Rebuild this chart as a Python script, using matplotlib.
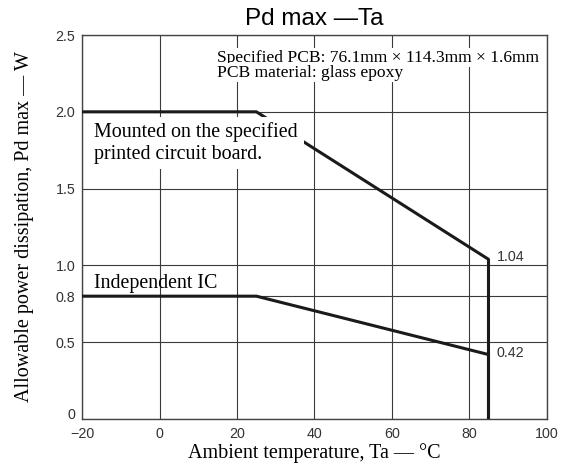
import numpy as np
import matplotlib
matplotlib.use("Agg")
from matplotlib import pyplot as plt

# curve breakpoints
ta = [-20, 25, 85, 85]
pd_board = [2.0, 2.0, 1.04, 0.0]
pd_ic = [0.8, 0.8, 0.42, 0.0]

xticks = [-20, 0, 20, 40, 60, 80, 100]
xlabels = ["\u221220", "0", "20", "40", "60", "80", "100"]
yticks = [0, 0.5, 0.8, 1.0, 1.5, 2.0, 2.5]
ylabels = ["0", "0.5", "0.8", "1.0", "1.5", "2.0", "2.5"]

serif = "Liberation Serif"
sans = "Liberation Sans"

fig = plt.figure(figsize=(5.64, 4.73), dpi=100)
ax = fig.add_axes([0.146, 0.114, 0.823, 0.812])

ax.set_xlim(-20, 100)
ax.set_ylim(0, 2.5)
ax.set_xticks(xticks)
ax.set_xticklabels(xlabels, fontfamily=sans, fontsize=10.3, color="#333333")
ax.set_yticks(yticks)
ax.set_yticklabels(ylabels, fontfamily=sans, fontsize=10.3, color="#333333")
ax.get_yticklabels()[0].set_va("baseline")
ax.tick_params(length=0)
ax.tick_params(axis="y", pad=5)
ax.tick_params(axis="x", pad=6)
ax.grid(True, color="#3a3a3a", linewidth=0.8)
ax.set_axisbelow(True)
for s in ax.spines.values():
    s.set_color("#444444")
    s.set_linewidth(1.0)

ax.plot(ta, pd_board, color="#1a1a1a", linewidth=2.2, zorder=3)
ax.plot(ta, pd_ic, color="#1a1a1a", linewidth=2.2, zorder=3)

ax.text(-16.9, 1.93, "Mounted on the specified\nprinted circuit board.",
        fontfamily=serif, fontsize=14.4, va="top", ha="left", linespacing=1.17,
        bbox=dict(facecolor="white", edgecolor="none", pad=4), zorder=4)
ax.text(-16.9, 0.853, "Independent IC", fontfamily=serif, fontsize=14.4,
        va="baseline", ha="left", zorder=4)
ax.text(14.8, 2.326, "Specified PCB: 76.1mm \u00d7 114.3mm \u00d7 1.6mm",
        fontfamily=serif, fontsize=12.6, va="baseline", ha="left",
        bbox=dict(facecolor="white", edgecolor="none", pad=1), zorder=4)
ax.text(14.8, 2.228, "PCB material: glass epoxy",
        fontfamily=serif, fontsize=12.6, va="baseline", ha="left",
        bbox=dict(facecolor="white", edgecolor="none", pad=1), zorder=4)

ax.text(87.1, 1.057, "1.04", fontfamily=sans, fontsize=10.3, color="#333333",
        va="center", ha="left", zorder=4)
ax.text(87.1, 0.43, "0.42", fontfamily=sans, fontsize=10.3, color="#333333",
        va="center", ha="left", zorder=4)

ax.set_title("Pd max \u2014Ta", fontfamily=sans, fontsize=17.5, pad=7)
ax.set_xlabel("Ambient temperature, Ta \u2014 \u00b0C", fontfamily=serif, fontsize=14.5, va="center")
ax.set_ylabel("Allowable power dissipation, Pd max \u2014 W", fontfamily=serif, fontsize=14.5, va="center")
ax.xaxis.set_label_coords(0.5, -0.0885)
ax.yaxis.set_label_coords(-0.125, 0.5)

fig.savefig("out.png", dpi=100)
